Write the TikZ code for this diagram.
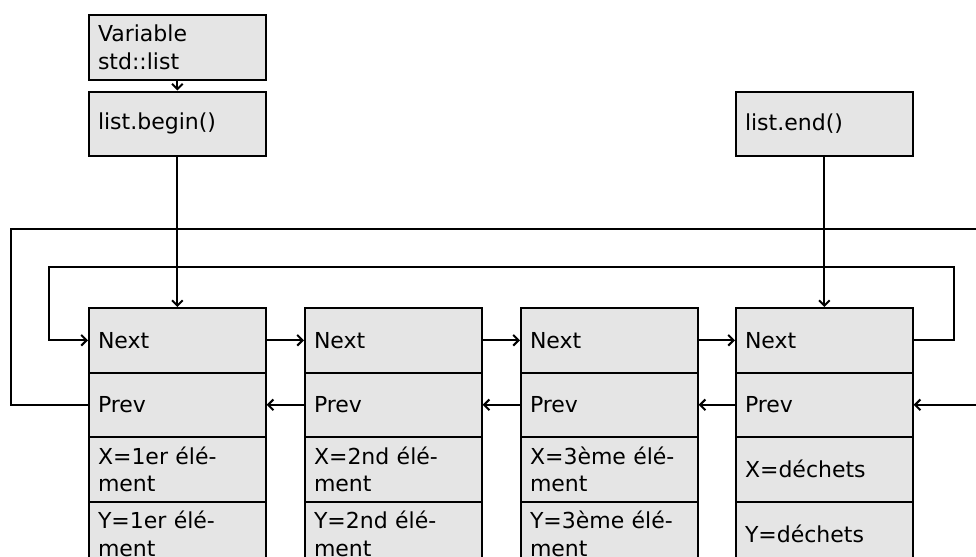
\documentclass[tikz,border=0pt]{standalone}
\usepackage{fontspec}
\usetikzlibrary{arrows.meta}
\newfontfamily\cellfont{DejaVu Sans}
\begin{document}
\begin{tikzpicture}[x=0.75pt, y=-0.75pt,
  cell/.style={draw, line width=1.5pt, fill=gray!20, anchor=north west,
    text width=119pt, minimum height=48.4pt, inner xsep=6.75pt, inner ysep=1pt,
    align=left, font={\cellfont\fontsize{16.5}{20.6}\selectfont}},
  link/.style={-{Straight Barb[length=4pt,width=8pt]}, line width=1.5pt}]
\clip (0,0) rectangle (976,557);

% Head boxes
\node[cell] (var) at (88,14) {Variable\\std::list};
\node[cell] (begin) at (88,90.5) {list.begin()};
\node[cell] (end) at (735,90.5) {list.end()};

% List nodes
\foreach \i/\xx/\xtext/\ytext in {1/88/{X=1er élé-\\ment}/{Y=1er élé-\\ment},
    2/304/{X=2nd élé-\\ment}/{Y=2nd élé-\\ment},
    3/520/{X=3ème élé-\\ment}/{Y=3ème élé-\\ment},
    4/735/{X=déchets}/{Y=déchets}}{
  \node[cell] (next\i) at (\xx,307) {Next};
  \node[cell] (prev\i) at (\xx,371.5) {Prev};
  \node[cell] (xval\i) at (\xx,436) {\xtext};
  \node[cell] (yval\i) at (\xx,500.5) {\ytext};
}

% Iterators
\draw[link] (var) -- (begin);
\draw[link] (begin) -- (next1);
\draw[link] (end) -- (next4);

% Next and prev links
\foreach \i/\j in {1/2,2/3,3/4}{
  \draw[link] (next\i) -- (next\j);
  \draw[link] (prev\j) -- (prev\i);
}

% Wrap-around links
\draw[link] (next4.east) -- ++(40,0) |- (49,267) |- (next1.west);
\draw[link] (prev1.west) -| (11,229) -- (1000,229) |- (prev4.east);
\end{tikzpicture}
\end{document}
